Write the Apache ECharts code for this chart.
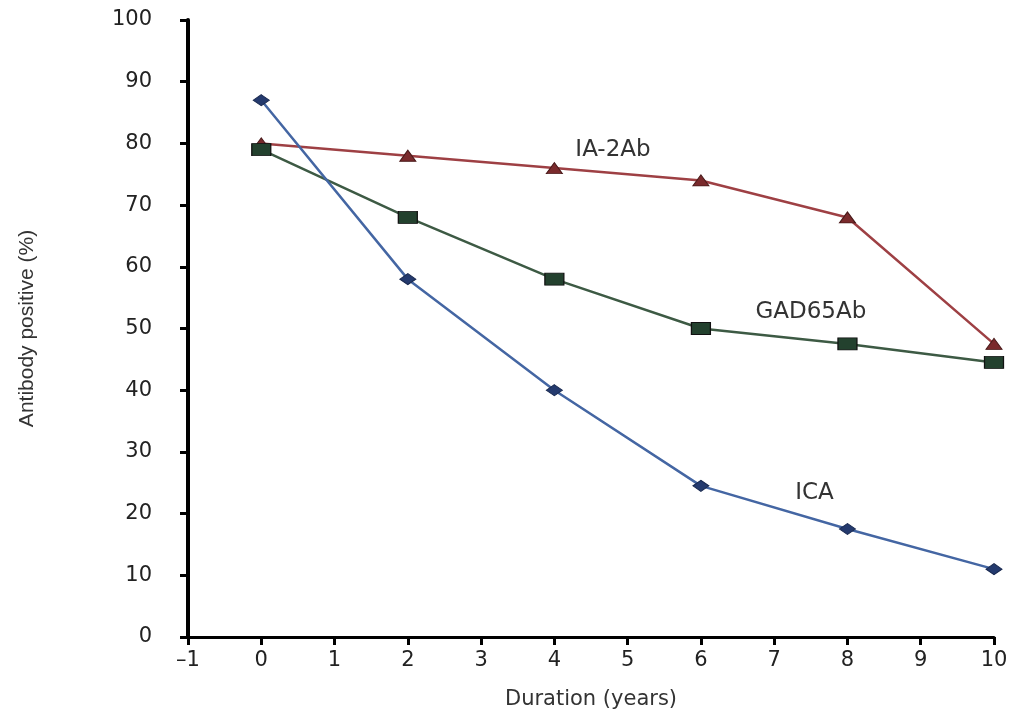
<!DOCTYPE html>
<html><head><meta charset="utf-8">
<script src="https://cdn.jsdelivr.net/npm/echarts@6/dist/echarts.min.js"></script>
<style>html,body{margin:0;padding:0;background:#fff}#c{width:1022px;height:715px}</style>
</head><body><div id="c"></div>
<script>
const years = [0, 2, 4, 6, 8, 10];
const ica = [87, 58, 40, 24.5, 17.5, 11];
const ia2ab = [80, 78, 76, 74, 68, 47.5];
const gad65ab = [79, 68, 58, 50, 47.5, 44.5];
const xTicks = [-1, 0, 1, 2, 3, 4, 5, 6, 7, 8, 9, 10];
const yTicks = [0, 10, 20, 30, 40, 50, 60, 70, 80, 90, 100];
const seriesNames = ['ICA', 'IA-2Ab', 'GAD65Ab'];
const labelPos = { 'IA-2Ab': [4.8, 78.9], 'GAD65Ab': [7.5, 52.7], 'ICA': [7.55, 23.3] };

const pts = arr => years.map((x, i) => [x, arr[i]]);
const font = 'DejaVu Sans, Verdana, sans-serif';
const lbl = name => ({
  silent: true,
  symbol: 'circle',
  symbolSize: 2,
  itemStyle: { color: 'rgba(0,0,0,0)', borderWidth: 0 },
  data: [{ coord: labelPos[name], value: name,
    label: { show: true, position: 'inside', formatter: name, color: '#333', fontSize: 23, fontFamily: font } }]
});

const chart = echarts.init(document.getElementById('c'));
chart.setOption({
  animation: false,
  grid: { left: 188, right: 28, top: 20, bottom: 78 },
  xAxis: {
    type: 'value', min: -1, max: 10, interval: 1,
    name: 'Duration (years)', nameLocation: 'middle', nameGap: 52,
    nameTextStyle: { fontSize: 21, color: '#333', fontFamily: font },
    axisLine: { show: true, onZero: false, lineStyle: { color: '#000', width: 3 } },
    axisTick: { show: true, length: 8, lineStyle: { color: '#000', width: 3 } },
    axisLabel: { fontSize: 21, color: '#222', fontFamily: font, margin: 13,
      formatter: v => (v < 0 ? '\u2013' + Math.abs(v) : String(v)) },
    splitLine: { show: false }
  },
  yAxis: {
    type: 'value', min: 0, max: 100, interval: 10,
    name: 'Antibody positive (%)', nameLocation: 'middle', nameGap: 150,
    nameTextStyle: { fontSize: 21, color: '#333', fontFamily: 'Liberation Sans Narrow, Liberation Sans, sans-serif' },
    axisLine: { show: true, onZero: false, lineStyle: { color: '#000', width: 4 } },
    axisTick: { show: true, length: 8, lineStyle: { color: '#000', width: 3 } },
    axisLabel: { fontSize: 21, color: '#222', fontFamily: font, margin: 36 },
    splitLine: { show: false }
  },
  series: [
    { name: 'ICA', type: 'line', data: pts(ica), symbol: 'diamond', symbolSize: [16, 11],
      lineStyle: { color: '#4466a3', width: 2.5 }, itemStyle: { color: '#243a6e', borderColor: '#1a2a50', borderWidth: 1 },
      markPoint: lbl('ICA'), z: 3 },
    { name: 'IA-2Ab', type: 'line', data: pts(ia2ab), symbol: 'triangle', symbolSize: [16, 11],
      lineStyle: { color: '#9e4044', width: 2.5 }, itemStyle: { color: '#7a2a2c', borderColor: '#4a1a1a', borderWidth: 1 },
      markPoint: lbl('IA-2Ab'), z: 2 },
    { name: 'GAD65Ab', type: 'line', data: pts(gad65ab), symbol: 'rect', symbolSize: [19, 12],
      lineStyle: { color: '#3d5a44', width: 2.5 }, itemStyle: { color: '#23412e', borderColor: '#111', borderWidth: 1 },
      markPoint: lbl('GAD65Ab'), z: 2 }
  ]
});
</script></body></html>
